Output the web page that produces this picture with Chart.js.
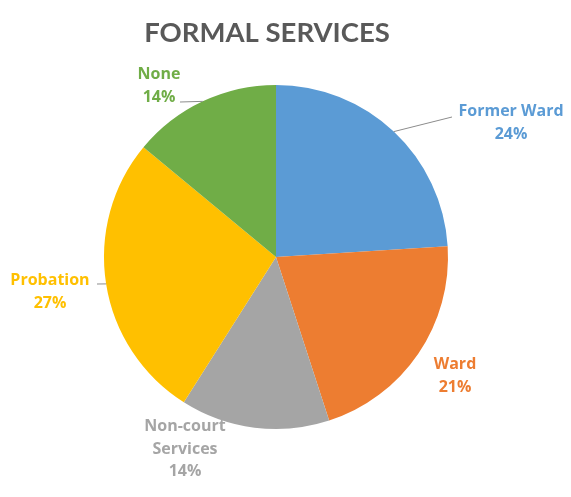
<!DOCTYPE html>
<html>
<head>
<meta charset="utf-8">
<script src="https://cdn.jsdelivr.net/npm/chart.js@4/dist/chart.umd.min.js"></script>
<style>
  html, body { margin: 0; padding: 0; background: #fff; }
  #wrap { width: 571px; height: 497px; }
</style>
</head>
<body>
<div id="wrap"><canvas id="servicesChart"></canvas></div>
<script>
const categories = ['Former Ward', 'Ward', 'Non-court Services', 'Probation', 'None'];
const labelLines = [['Former Ward'], ['Ward'], ['Non-court', 'Services'], ['Probation'], ['None']];
const shares = [24, 21, 14, 27, 14];
const colors = ['#5B9BD5', '#ED7D31', '#A5A5A5', '#FFC000', '#70AD47'];

// label centre offsets from pie centre, and leader line end (null = no line)
const labelOffsets = [[235, -134], [179, 119], [-91, 192], [-226, 35], [-117, -171]];
const leaderEnds = [[176, -140], null, null, [-179, 27], [-96, -155]];

const labelPlugin = {
  id: 'pieLabels',
  afterDraw(chart) {
    const ctx = chart.ctx;
    // title
    ctx.save();
    ctx.font = 'bold 27.5px Lato';
    ctx.fillStyle = '#595959';
    ctx.textAlign = 'center';
    ctx.textBaseline = 'middle';
    ctx.fillText('FORMAL SERVICES', 267, 33);

    const meta = chart.getDatasetMeta(0);
    meta.data.forEach((arc, i) => {
      const p = arc.getProps(['x', 'y', 'startAngle', 'endAngle', 'outerRadius'], true);
      const mid = (p.startAngle + p.endAngle) / 2;
      const ex = p.x + Math.cos(mid) * p.outerRadius;
      const ey = p.y + Math.sin(mid) * p.outerRadius;
      if (leaderEnds[i]) {
        ctx.strokeStyle = '#8c8c8c';
        ctx.lineWidth = 1;
        ctx.beginPath();
        ctx.moveTo(ex, ey);
        ctx.lineTo(p.x + leaderEnds[i][0], p.y + leaderEnds[i][1]);
        ctx.stroke();
      }
      const lines = labelLines[i].concat([shares[i] + '%']);
      const lh = 22.5;
      const cx = p.x + labelOffsets[i][0];
      const cy = p.y + labelOffsets[i][1];
      ctx.font = 'bold 16px "Open Sans"';
      ctx.fillStyle = colors[i];
      lines.forEach((t, j) => {
        ctx.fillText(t, cx, cy + (j - (lines.length - 1) / 2) * lh);
      });
    });
    ctx.restore();
  }
};

const data = {
  labels: categories,
  datasets: [{
    data: shares,
    backgroundColor: colors,
    borderWidth: 0
  }]
};

const options = {
  responsive: true,
  maintainAspectRatio: false,
  animation: false,
  layout: { padding: { top: 85, bottom: 68, left: 104, right: 123 } },
  plugins: {
    legend: { display: false },
    tooltip: { enabled: false }
  }
};

new Chart('servicesChart', { type: 'pie', data, options, plugins: [labelPlugin] });
</script>
</body>
</html>
